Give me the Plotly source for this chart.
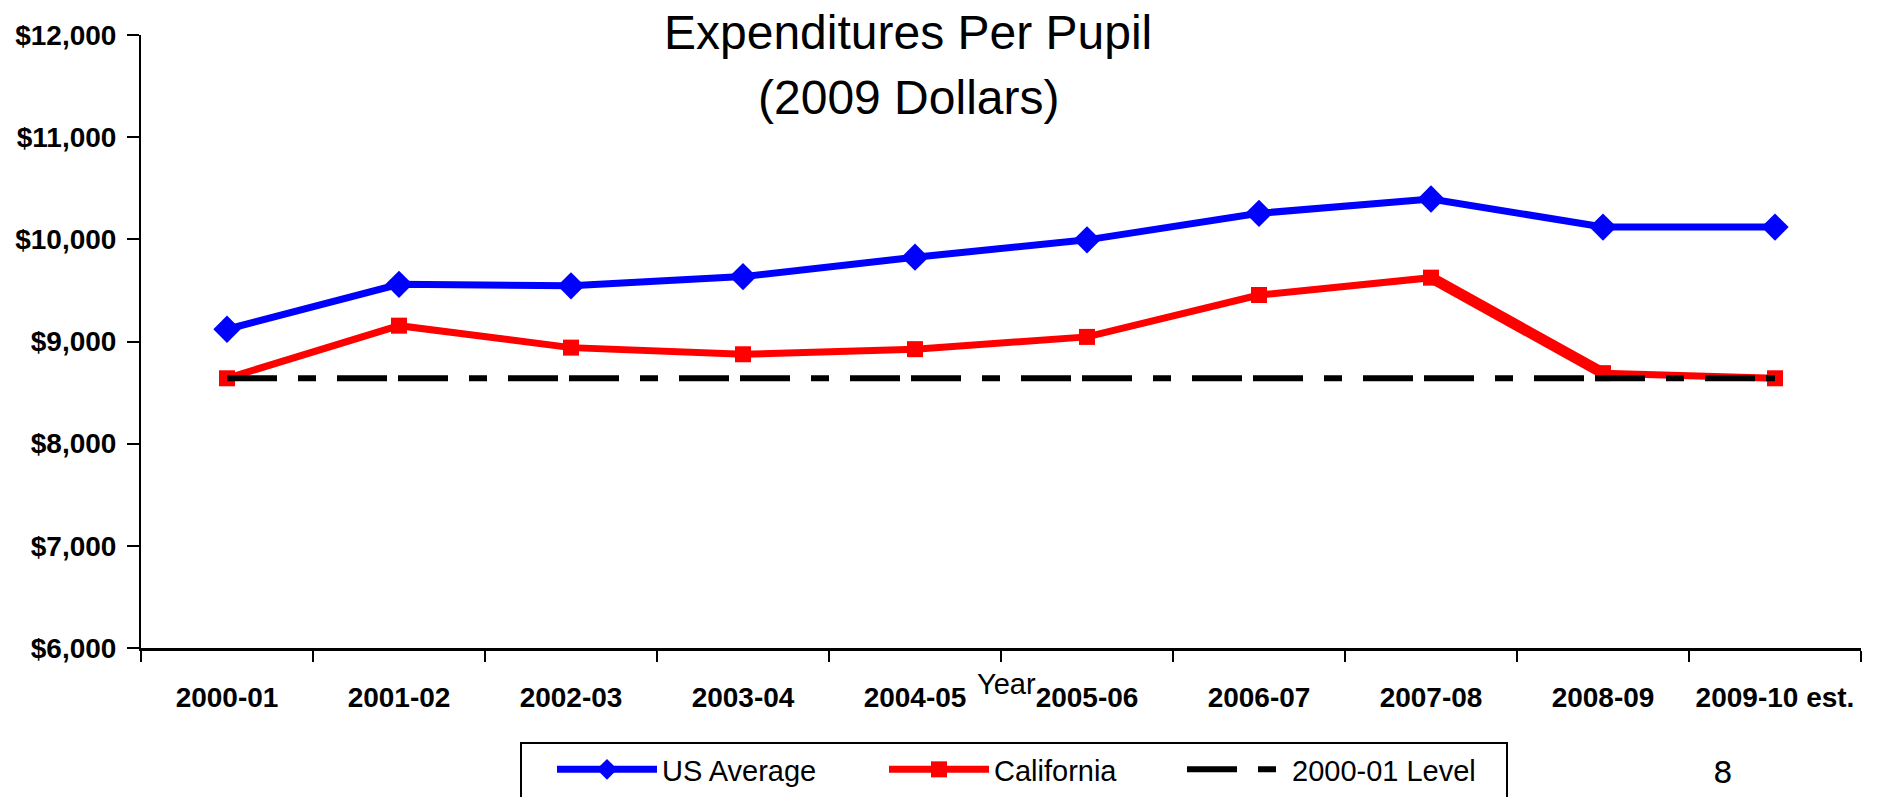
import plotly.graph_objects as go

# ---- data ----
years = ["2000-01", "2001-02", "2002-03", "2003-04", "2004-05",
         "2005-06", "2006-07", "2007-08", "2008-09", "2009-10 est."]
us_average = [9120, 9560, 9545, 9635, 9825, 9995, 10255, 10395, 10120, 10120]
california = [8640, 9155, 8940, 8875, 8925, 9045, 9455, 9625, 8690, 8640]
level_2000_01 = [8640, 8640, 8640, 8640, 8640, 8640, 8640, 8640, 8640, 8640]

series_names = ["US Average", "California", "2000-01 Level"]
y_ticks = [6000, 7000, 8000, 9000, 10000, 11000, 12000]
y_tick_text = [f"${v:,}" for v in y_ticks]

FONT = "Liberation Sans, Arial, sans-serif"

W, H = 1879, 797
ML, MR, MT, MB = 141, 18, 35, 149
PW, PH = W - ML - MR, H - MT - MB


def px_x(px):
    return (px - ML) / PW


def px_y(py):
    return (H - MB - py) / PH


fig = go.Figure()
fig.add_trace(go.Scatter(
    x=years, y=us_average, name=series_names[0], mode="lines+markers",
    line=dict(color="#0000FF", width=7),
    marker=dict(symbol="diamond", size=21, color="#0000FF"),
    legend="legend",
))
fig.add_trace(go.Scatter(
    x=years, y=california, name=series_names[1], mode="lines+markers",
    line=dict(color="#FF0000", width=7),
    marker=dict(symbol="square", size=16, color="#FF0000"),
    legend="legend2",
))
fig.add_trace(go.Scatter(
    x=years[7:9], y=california[7:9], mode="lines", showlegend=False,
    line=dict(color="#FF0000", width=11), hoverinfo="skip",
))
fig.add_trace(go.Scatter(
    x=years, y=level_2000_01, name=series_names[2], mode="lines",
    line=dict(color="black", width=6, dash="50px,21px,18px,21px,50px,11px"),
    legend="legend3",
))

LEG_TOP = 744
leg_common = dict(
    orientation="h", xanchor="left", yanchor="top", y=px_y(LEG_TOP),
    bgcolor="rgba(0,0,0,0)", borderwidth=0,
    font=dict(family=FONT, size=29, color="black"),
    itemwidth=100,
)

fig.update_layout(
    width=W, height=H, autosize=False,
    margin=dict(l=ML, r=MR, t=MT, b=MB, autoexpand=False),
    paper_bgcolor="white", plot_bgcolor="white",
    showlegend=True,
    legend=dict(x=px_x(552), **leg_common),
    legend2=dict(x=px_x(884), **leg_common),
    legend3=dict(x=px_x(1182), **leg_common),
    shapes=[
        dict(type="rect", xref="paper", yref="paper",
             x0=px_x(521), x1=px_x(1507), y0=px_y(743), y1=px_y(805),
             line=dict(color="black", width=2), fillcolor="rgba(0,0,0,0)",
             layer="above"),
    ],
    annotations=[
        dict(text="Expenditures Per Pupil", xref="paper", yref="paper",
             x=px_x(908), y=px_y(32.5), xanchor="center", yanchor="middle",
             showarrow=False, font=dict(family=FONT, size=48, color="black")),
        dict(text="(2009 Dollars)", xref="paper", yref="paper",
             x=px_x(908), y=px_y(97.5), xanchor="center", yanchor="middle",
             showarrow=False, font=dict(family=FONT, size=48, color="black")),
        dict(text="Year", xref="paper", yref="paper", x=px_x(1006), y=px_y(684),
             xanchor="center", yanchor="middle", showarrow=False,
             font=dict(family=FONT, size=29, color="black")),
        dict(text="8", xref="paper", yref="paper", x=px_x(1723), y=px_y(772),
             xanchor="center", yanchor="middle", showarrow=False,
             font=dict(family="DejaVu Sans, sans-serif", size=31, color="black")),
    ],
)

fig.update_xaxes(
    type="category", categoryorder="array", categoryarray=years,
    range=[-0.5, len(years) - 0.5], automargin=False,
    tickson="boundaries", ticks="outside", ticklen=11, tickwidth=2, tickcolor="black",
    showline=True, linecolor="black", linewidth=2.5, showgrid=False, zeroline=False,
    tickfont=dict(family=FONT, size=28, color="black", weight="bold"),
    tickangle=0, ticklabelstandoff=23,
)
fig.update_yaxes(
    range=[6000, 12000], tickmode="array", tickvals=y_ticks, ticktext=y_tick_text,
    automargin=False,
    ticks="outside", ticklen=12, tickwidth=2, tickcolor="black",
    showline=True, linecolor="black", linewidth=2, showgrid=False, zeroline=False,
    tickfont=dict(family=FONT, size=28, color="black", weight="bold"),
    ticklabelstandoff=5,
)

fig.write_html(
    "out.html",
    config={"displayModeBar": False},
    post_script="document.body.style.margin='0';document.body.style.overflow='hidden';",
)
